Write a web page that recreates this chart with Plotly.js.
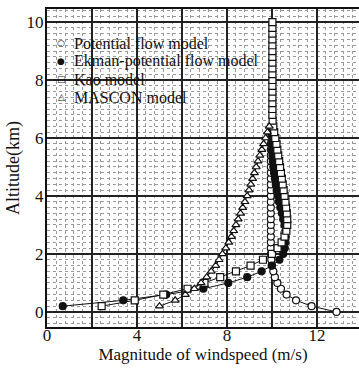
<!DOCTYPE html>
<html>
<head>
<meta charset="utf-8">
<script src="https://cdn.plot.ly/plotly-3.0.1.min.js"></script>
<style>
  html, body { margin: 0; padding: 0; background: #fff; }
  #chart { width: 359px; height: 368px; }
</style>
</head>
<body>
<div id="chart"></div>
<script>
// Wind speed profiles (m/s) against altitude (km), one array per model.
const seriesNames = [
  'Potential flow model',
  'Ekman-potential flow model',
  'Kao model',
  'MASCON model'
];
// Key glyph shown beside each model name.
const seriesGlyphs = ['\u25CB', '\u25CF', '\u25A1', '\u25B3'];

const potentialAlt = [0, 0.2, 0.4, 0.6, 0.8, 1.0, 1.2, 1.4, 1.6, 1.8, 2.0, 2.2, 2.4, 2.6, 2.8, 3.0,
  3.2, 3.4, 3.6, 3.8, 4.0, 4.2, 4.4, 4.6, 4.8, 5.0, 5.2, 5.4, 5.6, 5.8, 6.0, 6.2, 6.4];
const potentialSpeed = [12.87, 11.76, 11.07, 10.65, 10.4, 10.24, 10.13, 10.06, 10.0, 9.97, 9.96, 9.95,
  9.95, 9.95, 9.95, 9.95, 9.95, 9.95, 9.95, 9.95, 9.95, 9.95, 9.95, 9.95, 9.95, 9.95, 9.95, 9.95,
  9.95, 9.95, 9.95, 9.95, 9.95];

const ekmanAlt = [0.2, 0.4, 0.6, 0.8, 1.0, 1.2, 1.4, 1.6, 1.8, 2.0, 2.2, 2.4, 2.6, 2.8, 3.0, 3.2,
  3.4, 3.6, 3.8, 4.0, 4.2, 4.4, 4.6, 4.8, 5.0, 5.2, 5.4, 5.6, 5.8, 6.0, 6.2, 6.4];
const ekmanSpeed = [0.7, 3.39, 5.3, 6.95, 8.06, 8.9, 9.54, 9.99, 10.33, 10.5, 10.57, 10.6, 10.61,
  10.6, 10.56, 10.5, 10.44, 10.37, 10.31, 10.26, 10.21, 10.17, 10.13, 10.09, 10.06, 10.04, 10.02,
  10.0, 9.99, 9.98, 9.97, 9.96];

const kaoAlt = [0.2, 0.4, 0.6, 0.8, 1.0, 1.2, 1.4, 1.6, 1.8, 2.0, 2.2, 2.4, 2.6, 2.8, 3.0, 3.2,
  3.4, 3.6, 3.8, 4.0, 4.2, 4.4, 4.6, 4.8, 5.0, 5.2, 5.4, 5.6, 5.8, 6.0, 6.2, 6.4, 6.6, 6.8, 7.0,
  7.2, 7.4, 7.6, 7.8, 8.0, 8.2, 8.4, 8.6, 8.8, 9.0, 9.2, 9.4, 9.6, 9.8, 10.0];
const kaoSpeed = [2.43, 3.9, 5.17, 6.25, 7.0, 7.7, 8.4, 9.05, 9.6, 10.0, 10.25, 10.43, 10.56,
  10.64, 10.68, 10.68, 10.66, 10.63, 10.6, 10.56, 10.52, 10.48, 10.44, 10.4, 10.36, 10.32, 10.28,
  10.24, 10.2, 10.15, 10.1, 10.06, 10.03, 10.02, 10.02, 10.02, 10.02, 10.02, 10.02, 10.02, 10.02,
  10.02, 10.02, 10.02, 10.02, 10.02, 10.02, 10.02, 10.02, 10.02];

const masconAlt = [0.2, 0.4, 0.6, 0.8, 1.0, 1.2, 1.4, 1.6, 1.8, 2.0, 2.2, 2.4, 2.6, 2.8, 3.0, 3.2,
  3.4, 3.6, 3.8, 4.0, 4.2, 4.4, 4.6, 4.8, 5.0, 5.2, 5.4, 5.6, 5.8, 6.0, 6.2, 6.4];
const masconSpeed = [5.0, 5.7, 6.15, 6.55, 6.85, 7.1, 7.3, 7.5, 7.65, 7.8, 7.95, 8.08, 8.2, 8.3,
  8.4, 8.5, 8.6, 8.7, 8.8, 8.9, 8.98, 9.06, 9.14, 9.22, 9.3, 9.38, 9.46, 9.55, 9.63, 9.72, 9.8, 9.88];

const xTickVals = [0, 2, 4, 6, 8, 10, 12];
const xTickText = ['0', '', '4', '', '8', '', '12'];
const yTickVals = [0, 2, 4, 6, 8, 10];
const yTickText = ['0', '2', '4', '6', '8', '10'];

const serif = '"Liberation Serif", "DejaVu Serif", serif';
const ink = '#111';

function profile(name, x, y, symbol, fill, size) {
  return {
    type: 'scatter',
    mode: 'lines+markers',
    name: name,
    x: x,
    y: y,
    showlegend: false,
    line: { color: ink, width: 1 },
    marker: { symbol: symbol, size: size, color: fill, line: { color: ink, width: 1.2 } },
    cliponaxis: false
  };
}

const traces = [
  profile(seriesNames[0], potentialSpeed, potentialAlt, 'circle', '#fff', 7),
  profile(seriesNames[1], ekmanSpeed, ekmanAlt, 'circle', ink, 7),
  profile(seriesNames[2], kaoSpeed, kaoAlt, 'square', '#fff', 7),
  profile(seriesNames[3], masconSpeed, masconAlt, 'triangle-up', '#fff', 7)
];

// Key in the upper-left corner: a glyph column and a name column.
const keyRows = [0.893, 0.836, 0.779, 0.722];
const keyAnnotations = [];
seriesNames.forEach((name, i) => {
  keyAnnotations.push({
    xref: 'paper', yref: 'paper', x: 0.046, y: keyRows[i],
    xanchor: 'center', yanchor: 'middle', showarrow: false,
    text: seriesGlyphs[i],
    font: { family: '"DejaVu Sans", sans-serif', size: 9, color: ink }
  });
  keyAnnotations.push({
    xref: 'paper', yref: 'paper', x: 0.08, y: keyRows[i],
    xanchor: 'left', yanchor: 'middle', showarrow: false,
    text: name,
    font: { family: serif, size: 16, color: ink }
  });
});

const layout = {
  width: 359,
  height: 368,
  margin: { l: 47, r: 0, t: 9, b: 41 },
  paper_bgcolor: '#fff',
  plot_bgcolor: '#fff',
  font: { family: serif, color: ink, size: 16 },
  showlegend: false,
  annotations: keyAnnotations,
  xaxis: {
    range: [0, 13.87],
    tickvals: xTickVals,
    ticktext: xTickText,
    ticks: '',
    ticklabelstandoff: -8,
    showgrid: true,
    gridcolor: '#222',
    gridwidth: 1.2,
    zeroline: false,
    showline: true,
    linecolor: ink,
    linewidth: 2,
    mirror: true,
    tickfont: { size: 17 },
    minor: { dtick: 0.4, tick0: 0, showgrid: true, gridcolor: '#999', griddash: 'dot', gridwidth: 1 },
    title: { text: 'Magnitude of windspeed (m/s)', font: { size: 17 }, standoff: 2 }
  },
  yaxis: {
    range: [-0.52, 10.45],
    tickvals: yTickVals,
    ticktext: yTickText,
    ticks: '',
    ticklabelstandoff: -2,
    showgrid: true,
    gridcolor: '#222',
    gridwidth: 1.2,
    zeroline: false,
    showline: true,
    linecolor: ink,
    linewidth: 2,
    mirror: false,
    tickfont: { size: 17 },
    minor: { dtick: 0.2, tick0: 0, showgrid: true, gridcolor: '#999', griddash: 'dot', gridwidth: 1 },
    title: { text: 'Altitude(km)', font: { size: 18 }, standoff: 2 }
  }
};

Plotly.newPlot('chart', traces, layout, { displayModeBar: false, staticPlot: true });
</script>
</body>
</html>
